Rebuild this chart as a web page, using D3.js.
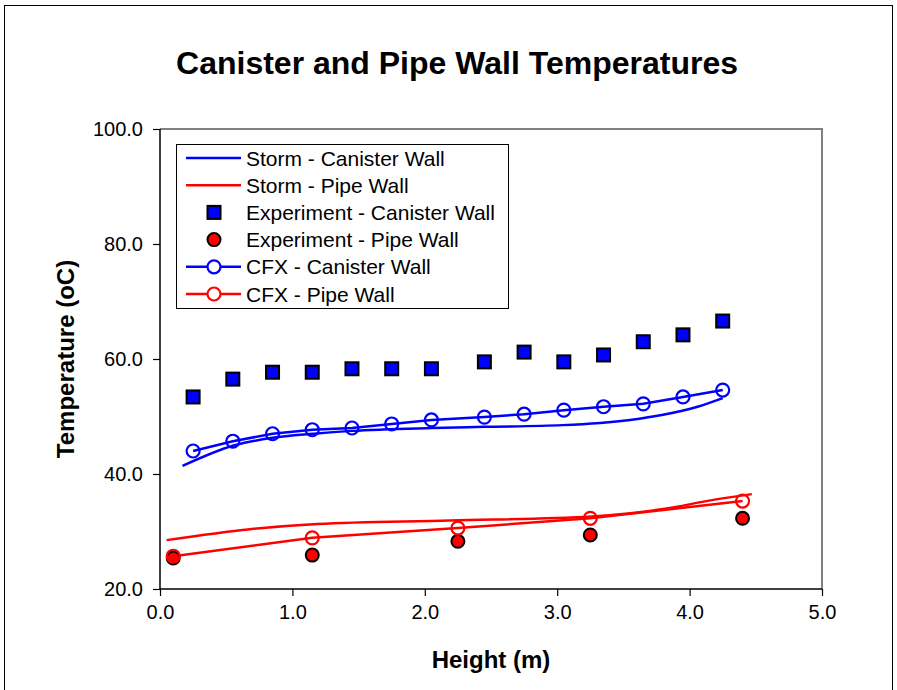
<!DOCTYPE html>
<html>
<head>
<meta charset="utf-8">
<script src="https://cdn.jsdelivr.net/npm/d3@7"></script>
<style>
html,body{margin:0;padding:0;background:#fff;}
svg{display:block;font-family:"Liberation Sans",Arial,sans-serif;}
</style>
</head>
<body>
<svg id="chart" width="897" height="690"></svg>
<script>
// ---------- data ----------
const title = "Canister and Pipe Wall Temperatures";
const xLabel = "Height (m)";
const yLabel = "Temperature (oC)";
const xTicks = [0, 1, 2, 3, 4, 5];
const yTicks = [20, 40, 60, 80, 100];

const seriesNames = ["Storm - Canister Wall", "Storm - Pipe Wall", "Experiment - Canister Wall",
  "Experiment - Pipe Wall", "CFX - Canister Wall", "CFX - Pipe Wall"];

const stormCanX = [0.17, 0.55, 0.85, 1.16, 1.45, 2.06, 2.45, 3.04, 3.55, 3.80, 4.06, 4.25];
const stormCanY = [41.4, 44.9, 46.3, 47.0, 47.5, 48.0, 48.2, 48.5, 49.4, 50.3, 51.7, 53.2];

const stormPipeX = [0.05, 0.68, 1.19, 2.19, 3.26, 3.80, 4.18, 4.47];
const stormPipeY = [28.5, 30.4, 31.3, 31.9, 32.6, 33.9, 35.5, 36.5];

const expCanX = [0.25, 0.55, 0.85, 1.15, 1.45, 1.75, 2.05, 2.45, 2.75, 3.05, 3.35, 3.65, 3.95, 4.25];
const expCanY = [53.4, 56.5, 57.7, 57.7, 58.3, 58.3, 58.3, 59.5, 61.2, 59.5, 60.7, 63.0, 64.2, 66.6];

const expPipeX = [0.1, 1.15, 2.25, 3.25, 4.4];
const expPipeY = [25.4, 25.9, 28.3, 29.4, 32.3];

const cfxCanX = [0.25, 0.55, 0.85, 1.15, 1.45, 1.75, 2.05, 2.45, 2.75, 3.05, 3.35, 3.65, 3.95, 4.25];
const cfxCanY = [44.0, 45.7, 47.0, 47.7, 48.0, 48.7, 49.4, 49.9, 50.4, 51.1, 51.7, 52.2, 53.4, 54.6];

const cfxPipeX = [0.1, 1.15, 2.25, 3.25, 4.4];
const cfxPipeY = [25.7, 28.9, 30.6, 32.3, 35.3];

// ---------- chart ----------
const svg = d3.select("#chart");
const plot = {left: 160, right: 822, top: 129, bottom: 589};

const x = d3.scaleLinear().domain([0, 5]).range([plot.left, plot.right]);
const y = d3.scaleLinear().domain([20, 100]).range([plot.bottom, plot.top]);

const zip = (xs, ys) => xs.map((v, i) => [v, ys[i]]);

// outer frame
svg.append("rect").attr("x", 4.5).attr("y", 5.5).attr("width", 888).attr("height", 700)
  .attr("fill", "#fff").attr("stroke", "#000").attr("stroke-width", 1);

// title
svg.append("text").attr("x", 457).attr("y", 74).attr("text-anchor", "middle")
  .attr("font-size", 32).attr("font-weight", "bold").attr("fill", "#000").text(title);

// plot area border (grey top/right)
svg.append("path")
  .attr("d", `M${plot.left},${plot.top}H${plot.right}V${plot.bottom}`)
  .attr("fill", "none").attr("stroke", "#808080").attr("stroke-width", 2);

// axes
const yAxis = d3.axisLeft(y).tickValues(yTicks).tickFormat(d3.format(".1f")).tickSize(7).tickPadding(10);
const xAxis = d3.axisBottom(x).tickValues(xTicks).tickFormat(d3.format(".1f")).tickSize(7).tickPadding(9);

const gy = svg.append("g").attr("transform", `translate(${plot.left},0)`).call(yAxis);
const gx = svg.append("g").attr("transform", `translate(0,${plot.bottom})`).call(xAxis);
[gx, gy].forEach(g => {
  g.select(".domain").attr("stroke", "#000").attr("stroke-width", 1.5)
    .attr("d", g === gy ? `M0,${plot.top}V${plot.bottom}` : `M${plot.left},0H${plot.right}`);
  g.selectAll(".tick line").attr("stroke", "#000").attr("stroke-width", 1.2);
  g.selectAll(".tick text").attr("font-size", 20).attr("fill", "#000")
    .attr("font-family", '"Liberation Sans",Arial,sans-serif');
});

// axis titles
svg.append("text").attr("x", (plot.left + plot.right) / 2).attr("y", 668).attr("text-anchor", "middle")
  .attr("font-size", 24).attr("font-weight", "bold").text(xLabel);
svg.append("text").attr("transform", `translate(74,${(plot.top + plot.bottom) / 2}) rotate(-90)`)
  .attr("text-anchor", "middle").attr("font-size", 24).attr("font-weight", "bold").text(yLabel);

// lines
const line = d3.line().x(d => x(d[0])).y(d => y(d[1])).curve(d3.curveMonotoneX);
const lineLin = d3.line().x(d => x(d[0])).y(d => y(d[1]));
const g = svg.append("g");

g.append("path").datum(zip(stormCanX, stormCanY)).attr("d", line)
  .attr("fill", "none").attr("stroke", "#0000ff").attr("stroke-width", 2.5);
g.append("path").datum(zip(stormPipeX, stormPipeY)).attr("d", line)
  .attr("fill", "none").attr("stroke", "#ff0000").attr("stroke-width", 2.5);
g.append("path").datum(zip(cfxCanX, cfxCanY)).attr("d", lineLin)
  .attr("fill", "none").attr("stroke", "#0000ff").attr("stroke-width", 2.5);
g.append("path").datum(zip(cfxPipeX, cfxPipeY)).attr("d", lineLin)
  .attr("fill", "none").attr("stroke", "#ff0000").attr("stroke-width", 2.5);

// experiment markers
g.selectAll(".sq").data(zip(expCanX, expCanY)).join("rect").attr("class", "sq")
  .attr("x", d => x(d[0]) - 6.5).attr("y", d => y(d[1]) - 6.5).attr("width", 13).attr("height", 13)
  .attr("fill", "#0000ff").attr("stroke", "#000").attr("stroke-width", 2);
g.selectAll(".ec").data(zip(expPipeX, expPipeY)).join("circle").attr("class", "ec")
  .attr("cx", d => x(d[0])).attr("cy", d => y(d[1])).attr("r", 6.5)
  .attr("fill", "#ff0000").attr("stroke", "#000").attr("stroke-width", 2);

// CFX markers
g.selectAll(".cc").data(zip(cfxCanX, cfxCanY)).join("circle").attr("class", "cc")
  .attr("cx", d => x(d[0])).attr("cy", d => y(d[1])).attr("r", 6.5)
  .attr("fill", "none").attr("stroke", "#0000ff").attr("stroke-width", 2.2);
g.selectAll(".cp").data(zip(cfxPipeX, cfxPipeY)).join("circle").attr("class", "cp")
  .attr("cx", d => x(d[0])).attr("cy", d => y(d[1])).attr("r", 6.5)
  .attr("fill", "none").attr("stroke", "#ff0000").attr("stroke-width", 2.2);

// legend
const lg = svg.append("g");
lg.append("rect").attr("x", 176.5).attr("y", 144.5).attr("width", 332).attr("height", 164)
  .attr("fill", "#fff").attr("stroke", "#000").attr("stroke-width", 1);
const rowY = i => 158 + i * 27.2;
const kinds = ["line", "line", "square", "dot", "lineCircle", "lineCircle"];
const colors = ["#0000ff", "#ff0000", "#0000ff", "#ff0000", "#0000ff", "#ff0000"];
seriesNames.forEach((name, i) => {
  const cy = rowY(i), k = kinds[i], c = colors[i];
  if (k === "line" || k === "lineCircle") {
    lg.append("line").attr("x1", 186).attr("x2", 241).attr("y1", cy).attr("y2", cy)
      .attr("stroke", c).attr("stroke-width", 2.5);
  }
  if (k === "lineCircle") {
    lg.append("circle").attr("cx", 214).attr("cy", cy).attr("r", 6.5)
      .attr("fill", "#fff").attr("stroke", c).attr("stroke-width", 2.2);
  }
  if (k === "square") {
    lg.append("rect").attr("x", 207.5).attr("y", cy - 6.5).attr("width", 13).attr("height", 13)
      .attr("fill", c).attr("stroke", "#000").attr("stroke-width", 2);
  }
  if (k === "dot") {
    lg.append("circle").attr("cx", 214).attr("cy", cy).attr("r", 6.5)
      .attr("fill", c).attr("stroke", "#000").attr("stroke-width", 2);
  }
  lg.append("text").attr("x", 246).attr("y", cy + 7.5).attr("font-size", 21).attr("fill", "#000").text(name);
});
</script>
</body>
</html>
